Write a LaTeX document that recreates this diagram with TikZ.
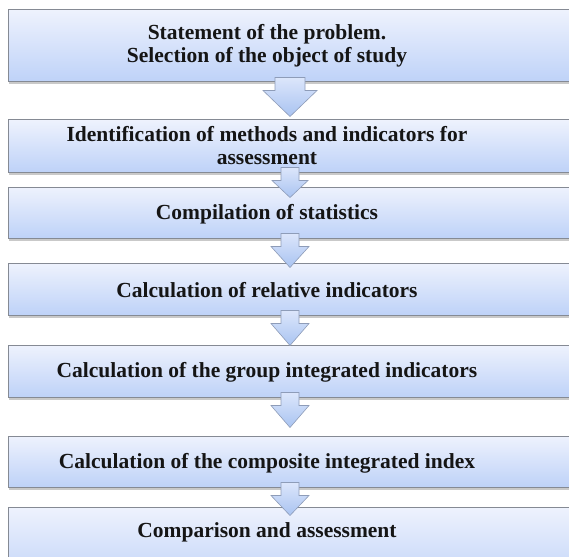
\documentclass[tikz,border=0pt]{standalone}
\usepackage{fontspec}
\setmainfont{Liberation Serif}
\usetikzlibrary{calc,shadows}
\definecolor{boxtop}{HTML}{EEF2FD}
\definecolor{boxbot}{HTML}{BED2F8}
\definecolor{arrtop}{HTML}{DCE6FB}
\definecolor{arrbot}{HTML}{A9C3F1}
\definecolor{edgegray}{HTML}{858A94}
\definecolor{arredge}{HTML}{8E9CB8}
\definecolor{inktext}{HTML}{151515}
\newcommand\blockarr[4]{%
  \path[arrowshape] ($(#1.south -| ax)+(-#2,-5)$) -- ++(0,13) -- ++({#2-#3},0) -- ++(#3,#4) -- ++(#3,-#4) -- ++({#2-#3},0) -- ++(0,-13) -- cycle;}
\begin{document}
\begin{tikzpicture}[x=1pt,y=-1pt,
  stepbox/.style={rectangle, draw=edgegray, line width=1pt, top color=boxtop, bottom color=boxbot,
    minimum width=592pt, inner sep=0pt,
    drop shadow={shadow xshift=1pt, shadow yshift=-2.5pt, opacity=0.35, fill=black!60}},
  txt/.style={align=center, font=\fontsize{21.5}{23}\selectfont\bfseries, text=inktext, inner sep=0pt},
  arrowshape/.style={draw=arredge, line width=0.6pt, top color=arrtop, bottom color=arrbot, line join=miter}]
\useasboundingbox (0,0) rectangle (569,556);
\clip (0,0) rectangle (569,556);
\fill[white] (0,0) rectangle (569,556);
\coordinate (ax) at (290,0);
\node[stepbox, minimum height=72pt] (b1) at (304,46) {};
\node[stepbox, minimum height=52pt] (b2) at (304,146) {};
\node[stepbox, minimum height=51pt] (b3) at (304,212.5) {};
\node[stepbox, minimum height=52pt] (b4) at (304,289) {};
\node[stepbox, minimum height=52pt] (b5) at (304,371) {};
\node[stepbox, minimum height=51pt] (b6) at (304,461.5) {};
\node[stepbox, minimum height=80pt] (b7) at (304,547) {};
\node[txt] (t1) at ([xshift=-37pt]b1.center) {Statement of the problem.\\Selection of the object of study};
\node[txt] (t2) at ([xshift=-37pt]b2.center) {Identification of methods and indicators for\\assessment};
\node[txt] (t3) at ([xshift=-37pt,yshift=-1.5pt]b3.center) {Compilation of statistics};
\node[txt] (t4) at ([xshift=-37pt,yshift=-1.5pt]b4.center) {Calculation of relative indicators};
\node[txt] (t5) at ([xshift=-37pt,yshift=-1.5pt]b5.center) {Calculation of the group integrated indicators};
\node[txt] (t6) at ([xshift=-37pt,yshift=-1.5pt]b6.center) {Calculation of the composite integrated index};
\node[txt] (t7) at (267,532) {Comparison and assessment};
\blockarr{b1}{15}{27}{26}
\blockarr{b2}{9}{18}{17}
\blockarr{b3}{9}{19}{21}
\blockarr{b4}{9}{19}{22}
\blockarr{b5}{9}{19}{22}
\blockarr{b6}{9}{19}{20}
\end{tikzpicture}
\end{document}
